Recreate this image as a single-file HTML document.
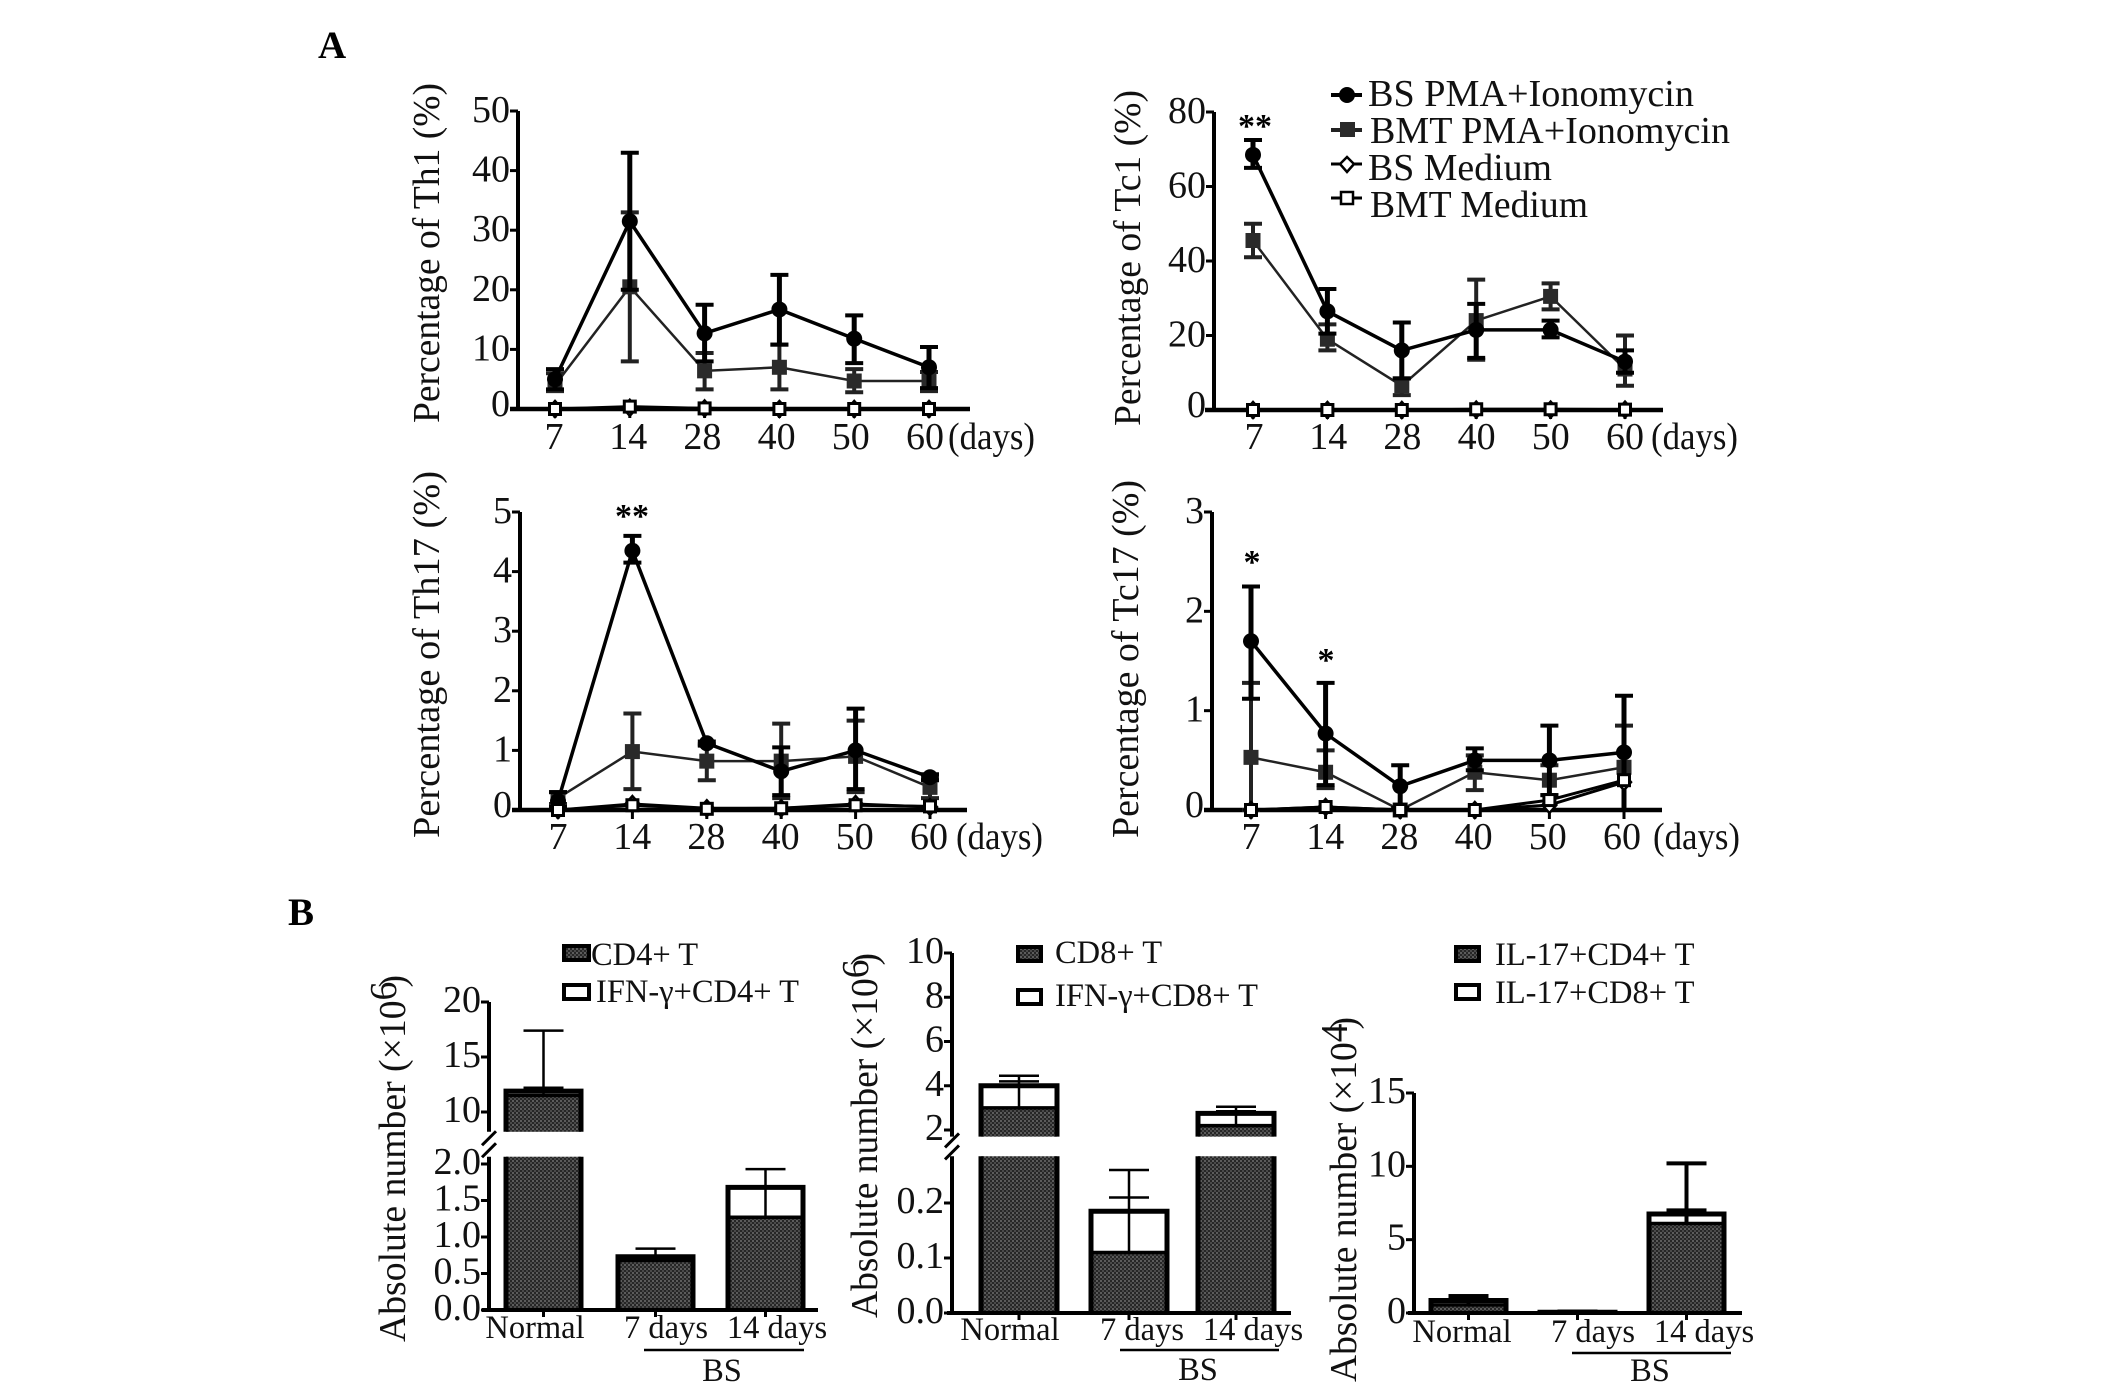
<!DOCTYPE html>
<html lang="en">
<head>
<meta charset="utf-8">
<title>T cell percentage and absolute number charts</title>
<style>
html,body{margin:0;padding:0;background:#fff;}
svg{display:block;}
text{font-family:"Liberation Serif",serif;fill:#111;}
.title{font-size:38px;}
.tick{font-size:38px;}
.leg{font-size:38px;}
.leg2{font-size:32.5px;}
.cat{font-size:32.5px;}
.panel{font-size:39px;font-weight:bold;fill:#000;}
.star{font-size:34px;font-weight:bold;fill:#000;}
</style>
</head>
<body>
<svg id="figure" xmlns="http://www.w3.org/2000/svg" width="2126" height="1393" viewBox="0 0 2126 1393">
<defs>
<pattern id="stipple" width="4" height="4" patternUnits="userSpaceOnUse">
<rect width="4" height="4" fill="#262626"/>
<rect x="0" y="0" width="2" height="2" fill="#5c5c5c"/>
<rect x="2" y="2" width="2" height="2" fill="#4a4a4a"/>
</pattern>
</defs>
<rect width="2126" height="1393" fill="#fff"/>

<text class="panel" x="318" y="58">A</text>
<text class="panel" x="288" y="925">B</text>

<g id="th1">
<text class="title" transform="translate(439,423) rotate(-90)" textLength="340" lengthAdjust="spacingAndGlyphs">Percentage of Th1 (%)</text>
<text class="tick" x="948" y="449" textLength="87" lengthAdjust="spacingAndGlyphs">(days)</text>
</g>
<g id="tc1">
<text class="title" transform="translate(1140,426) rotate(-90)" textLength="336" lengthAdjust="spacingAndGlyphs">Percentage of Tc1 (%)</text>
<text class="tick" x="1651" y="449" textLength="87" lengthAdjust="spacingAndGlyphs">(days)</text>
<text class="star" x="1255" y="137" text-anchor="middle">**</text>
</g>
<g id="th17">
<text class="title" transform="translate(439,838) rotate(-90)" textLength="367" lengthAdjust="spacingAndGlyphs">Percentage of Th17 (%)</text>
<text class="tick" x="956" y="849" textLength="87" lengthAdjust="spacingAndGlyphs">(days)</text>
<text class="star" x="632" y="527" text-anchor="middle">**</text>
</g>
<g id="tc17">
<text class="title" transform="translate(1138,838) rotate(-90)" textLength="358" lengthAdjust="spacingAndGlyphs">Percentage of Tc17 (%)</text>
<text class="tick" x="1653" y="849" textLength="87" lengthAdjust="spacingAndGlyphs">(days)</text>
<text class="star" x="1252" y="573" text-anchor="middle">*</text>
<text class="star" x="1326" y="671" text-anchor="middle">*</text>
</g>

<g id="line-legend">
<g>
<line x1="1331" y1="95" x2="1362" y2="95" stroke="#000" stroke-width="4"/><circle cx="1347" cy="95" r="8" fill="#000"/>
<text class="leg" x="1368" y="106" textLength="326" lengthAdjust="spacingAndGlyphs">BS PMA+Ionomycin</text>
</g>
<g>
<line x1="1331" y1="130" x2="1362" y2="130" stroke="#222" stroke-width="4"/><rect x="1340" y="122" width="15" height="15" fill="#2a2a2a"/>
<text class="leg" x="1370" y="143" textLength="360" lengthAdjust="spacingAndGlyphs">BMT PMA+Ionomycin</text>
</g>
<g>
<line x1="1331" y1="164" x2="1362" y2="164" stroke="#000" stroke-width="3"/><path d="M1347 157 L1354 164 L1347 172 L1340 164 Z" fill="#fff" stroke="#000" stroke-width="2.5"/>
<text class="leg" x="1368" y="180" textLength="184" lengthAdjust="spacingAndGlyphs">BS Medium</text>
</g>
<g>
<line x1="1331" y1="198" x2="1362" y2="198" stroke="#000" stroke-width="3"/><rect x="1341" y="192" width="12" height="12" fill="#fff" stroke="#000" stroke-width="2.5"/>
<text class="leg" x="1370" y="217" textLength="218" lengthAdjust="spacingAndGlyphs">BMT Medium</text>
</g>
</g>

<g id="b1">
<text class="title" transform="translate(405,1342) rotate(-90)" textLength="367" lengthAdjust="spacingAndGlyphs">Absolute number (×10<tspan dy="-9">6</tspan><tspan dy="9" dx="-6">)</tspan></text>
<g>
<rect x="564" y="946" width="25" height="14" fill="url(#stipple)" stroke="#000" stroke-width="4"/>
<text class="leg2" x="591" y="965">CD4+ T</text>
<rect x="564" y="985" width="25" height="14" fill="#fff" stroke="#000" stroke-width="4"/>
<text class="leg2" x="596" y="1002">IFN-γ+CD4+ T</text>
</g>
<line x1="644" y1="1350" x2="804" y2="1350" stroke="#000" stroke-width="2.5"/>
<text class="cat" x="722" y="1381" text-anchor="middle">BS</text>
</g>
<g id="b2">
<text class="title" transform="translate(877,1318) rotate(-90)" textLength="365" lengthAdjust="spacingAndGlyphs">Absolute number (×10<tspan dy="-9">6</tspan><tspan dy="9" dx="-6">)</tspan></text>
<g>
<rect x="1018" y="947" width="23" height="14" fill="url(#stipple)" stroke="#000" stroke-width="4"/>
<text class="leg2" x="1055" y="963">CD8+ T</text>
<rect x="1018" y="990" width="23" height="14" fill="#fff" stroke="#000" stroke-width="4"/>
<text class="leg2" x="1055" y="1006">IFN-γ+CD8+ T</text>
</g>
<line x1="1120" y1="1350" x2="1279" y2="1350" stroke="#000" stroke-width="2.5"/>
<text class="cat" x="1198" y="1380" text-anchor="middle">BS</text>
</g>
<g id="b3">
<text class="title" transform="translate(1356,1382) rotate(-90)" textLength="365" lengthAdjust="spacingAndGlyphs">Absolute number (×10<tspan dy="-9">4</tspan><tspan dy="9" dx="-6">)</tspan></text>
<g>
<rect x="1456" y="947" width="23" height="14" fill="url(#stipple)" stroke="#000" stroke-width="4"/>
<text class="leg2" x="1495" y="965">IL-17+CD4+ T</text>
<rect x="1456" y="985" width="23" height="14" fill="#fff" stroke="#000" stroke-width="4"/>
<text class="leg2" x="1495" y="1003">IL-17+CD8+ T</text>
</g>
<line x1="1572" y1="1353" x2="1731" y2="1353" stroke="#000" stroke-width="2.5"/>
<text class="cat" x="1650" y="1381" text-anchor="middle">BS</text>
</g>
</svg>

<script>
// ---------- shared categories ----------
const dayLabels = ['7', '14', '28', '40', '50', '60'];
const barCategories = ['Normal', '7 days', '14 days'];

// ---------- Th1 ----------
const th1Ticks = [0, 10, 20, 30, 40, 50];
const th1BsPma = [5, 31.5, 12.7, 16.7, 11.8, 7];
const th1BsPmaUpper = [6.7, 43, 17.5, 22.5, 15.7, 10.4];
const th1BsPmaLower = [3.3, 20, 8, 10.8, 7.7, 3.5];
const th1BmtPma = [4, 20.5, 6.4, 7, 4.7, 4.7];
const th1BmtPmaUpper = [6, 33, 9.4, 10.8, 6.7, 6.2];
const th1BmtPmaLower = [3, 8, 3.3, 3.3, 2.8, 3];
const th1BsMedium = [0, 0.2, 0.1, 0, 0, 0];
const th1BmtMedium = [0, 0.4, 0.1, 0, 0, 0];

// ---------- Tc1 ----------
const tc1Ticks = [0, 20, 40, 60, 80];
const tc1BsPma = [68.5, 26.5, 16, 21.5, 21.5, 13];
const tc1BsPmaUpper = [72.5, 32.5, 23.5, 28.5, 24, 16];
const tc1BsPmaLower = [65, 20.5, 8.5, 14, 19.5, 10];
const tc1BmtPma = [45.5, 19, 6.5, 24, 30.5, 11];
const tc1BmtPmaUpper = [50, 23, 8.5, 35, 34, 20];
const tc1BmtPmaLower = [41, 16, 4, 13.5, 27, 6.5];
const tc1BsMedium = [0, 0, 0, 0.1, 0.1, 0.1];
const tc1BmtMedium = [0, 0, 0, 0.2, 0.2, 0.1];

// ---------- Th17 ----------
const th17Ticks = [0, 1, 2, 3, 4, 5];
const th17BsPma = [0.15, 4.35, 1.12, 0.65, 1, 0.55];
const th17BsPmaUpper = [0.3, 4.6, 1.15, 1.05, 1.7, 0.6];
const th17BsPmaLower = [0.05, 4.15, 1.08, 0.25, 0.35, 0.5];
const th17BmtPma = [0.2, 0.98, 0.82, 0.82, 0.9, 0.38];
const th17BmtPmaUpper = [0.3, 1.62, 1.1, 1.45, 1.5, 0.55];
const th17BmtPmaLower = [0.1, 0.35, 0.5, 0.2, 0.3, 0.2];
const th17BsMedium = [0, 0.1, 0.03, 0.03, 0.1, 0.05];
const th17BmtMedium = [0, 0.08, 0.02, 0.03, 0.08, 0.06];

// ---------- Tc17 ----------
const tc17Ticks = [0, 1, 2, 3];
const tc17BsPma = [1.7, 0.77, 0.24, 0.5, 0.5, 0.58];
const tc17BsPmaUpper = [2.25, 1.28, 0.45, 0.62, 0.85, 1.15];
const tc17BsPmaLower = [1.12, 0.25, 0.02, 0.4, 0.15, 0];
const tc17BmtPma = [0.53, 0.38, 0, 0.38, 0.3, 0.43];
const tc17BmtPmaUpper = [1.28, 0.6, 0.02, 0.55, 0.45, 0.85];
const tc17BmtPmaLower = [0, 0.22, 0, 0.2, 0.15, 0];
const tc17BsMedium = [0, 0.03, 0, 0, 0.05, 0.28];
const tc17BmtMedium = [0, 0.03, 0, 0, 0.1, 0.3];

// ---------- Bars: CD4 ----------
const cd4TickValues = [0, 0.5, 1, 1.5, 2, 10, 15, 20];
const cd4TickLabels = ['0.0', '0.5', '1.0', '1.5', '2.0', '10', '15', '20'];
const cd4Inner = [11.5, 0.68, 1.27];
const cd4Total = [11.9, 0.73, 1.68];
const cd4InnerError = [12.2, 0.73, 1.68];
const cd4TotalError = [17.4, 0.84, 1.93];

// ---------- Bars: CD8 ----------
const cd8TickValues = [0, 0.1, 0.2, 2, 4, 6, 8, 10];
const cd8TickLabels = ['0.0', '0.1', '0.2', '2', '4', '6', '8', '10'];
const cd8Inner = [3, 0.11, 2.2];
const cd8Total = [4, 0.185, 2.75];
const cd8InnerError = [4.2, 0.21, 2.85];
const cd8TotalError = [4.45, 0.26, 3.05];

// ---------- Bars: IL-17 ----------
const il17TickValues = [0, 5, 10, 15];
const il17TickLabels = ['0', '5', '10', '15'];
const il17Inner = [0.55, 0.02, 6.1];
const il17Total = [0.85, 0.05, 6.75];
const il17InnerError = [1.15, 0.1, 7];
const il17TotalError = [1.15, 0.1, 10.2];

const SVGNS = 'http://www.w3.org/2000/svg';
function mk(parent, tag, attrs) {
  const n = document.createElementNS(SVGNS, tag);
  for (const k in attrs) n.setAttribute(k, attrs[k]);
  parent.appendChild(n);
  return n;
}
function seg(parent, x1, y1, x2, y2, w, c) {
  return mk(parent, 'line', { x1: x1, y1: y1, x2: x2, y2: y2, stroke: c, 'stroke-width': w });
}

function drawLineChart(cfg) {
  const root = document.getElementById(cfg.id);
  const x = i => cfg.x0 + cfg.step * i;
  const y = v => cfg.yZero - (v / cfg.yMax) * (cfg.yZero - cfg.yTop);

  const yAxis = seg(root, cfg.axisX, y(cfg.yMax), cfg.axisX, cfg.yZero + 2, 4, '#000');
  
  
  const xAxis = seg(root, cfg.axisStart, cfg.yZero, cfg.axisEnd, cfg.yZero, 4.5, '#000');
  
  

  cfg.ticks.forEach(t => {
    const tk = seg(root, cfg.axisX - 8, y(t), cfg.axisX, y(t), 3, '#000');
    
    
    const lb = mk(root, 'text', { x: cfg.axisX - 8, y: y(t) + (t === 0 ? 7 : 11), 'text-anchor': 'end', class: 'tick' });
    lb.textContent = String(t);
    
    
  });
  dayLabels.forEach((d, i) => {
    const tk = seg(root, x(i), cfg.yZero, x(i), cfg.yZero + 9, 3, '#000');
    
    
    const lb = mk(root, 'text', { x: cfg.labelX0 + cfg.labelStep * i, y: cfg.labelY, 'text-anchor': 'middle', class: 'tick' });
    lb.textContent = d;
    
    
  });

  cfg.series.forEach(s => {
    const g = mk(root, 'g', {});
    
    
    const pl = mk(g, 'polyline', {
      points: s.values.map((v, i) => x(i) + ',' + y(v)).join(' '),
      fill: 'none', stroke: s.color, 'stroke-width': s.lw
    });
    
    
    if (s.upper) {
      s.values.forEach((v, i) => {
        const e = seg(g, x(i), y(s.lower[i]), x(i), y(s.upper[i]), s.ew, s.color);
        
        
        const cu = seg(g, x(i) - 9, y(s.upper[i]), x(i) + 9, y(s.upper[i]), 4, s.color);
        
        
        const cl = seg(g, x(i) - 9, y(s.lower[i]), x(i) + 9, y(s.lower[i]), 4, s.color);
        
        
      });
    }
    s.values.forEach((v, i) => {
      const px = x(i), py = y(v);
      let m;
      if (s.marker === 'circle') {
        m = mk(g, 'circle', { cx: px, cy: py, r: 8, fill: '#000' });
      } else if (s.marker === 'square') {
        m = mk(g, 'rect', { x: px - 7.5, y: py - 7.5, width: 15, height: 15, fill: '#2a2a2a' });
      } else if (s.marker === 'diamond') {
        m = mk(g, 'path', { d: 'M' + px + ' ' + (py - 8) + ' L' + (px + 7) + ' ' + py + ' L' + px + ' ' + (py + 8) + ' L' + (px - 7) + ' ' + py + ' Z', fill: '#fff', stroke: '#000', 'stroke-width': 2.5 });
      } else {
        m = mk(g, 'rect', { x: px - 5.5, y: py - 5.5, width: 11, height: 11, fill: '#fff', stroke: '#000', 'stroke-width': 3 });
      }
      
      
    });
  });
}

function makeSeries(bs, bsU, bsL, bmt, bmtU, bmtL, bsM, bmtM) {
  return [
    { key: 'bmt-pma', values: bmt, upper: bmtU, lower: bmtL, marker: 'square', color: '#222', lw: 2.5, ew: 4 },
    { key: 'bs-pma', values: bs, upper: bsU, lower: bsL, marker: 'circle', color: '#000', lw: 3.5, ew: 5 },
    { key: 'bs-medium', values: bsM, marker: 'diamond', color: '#000', lw: 3 },
    { key: 'bmt-medium', values: bmtM, marker: 'open-square', color: '#000', lw: 3 }
  ];
}

drawLineChart({ id: 'th1', axisX: 518, axisStart: 510, axisEnd: 970, x0: 555, step: 74.8, yZero: 409, yTop: 111, yMax: 50, ticks: th1Ticks, labelX0: 554, labelStep: 74.2, labelY: 449,
  series: makeSeries(th1BsPma, th1BsPmaUpper, th1BsPmaLower, th1BmtPma, th1BmtPmaUpper, th1BmtPmaLower, th1BsMedium, th1BmtMedium) });
drawLineChart({ id: 'tc1', axisX: 1214, axisStart: 1205, axisEnd: 1663, x0: 1253, step: 74.4, yZero: 410, yTop: 112, yMax: 80, ticks: tc1Ticks, labelX0: 1254, labelStep: 74.2, labelY: 449,
  series: makeSeries(tc1BsPma, tc1BsPmaUpper, tc1BsPmaLower, tc1BmtPma, tc1BmtPmaUpper, tc1BmtPmaLower, tc1BsMedium, tc1BmtMedium) });
drawLineChart({ id: 'th17', axisX: 520, axisStart: 512, axisEnd: 967, x0: 558, step: 74.4, yZero: 810, yTop: 512, yMax: 5, ticks: th17Ticks, labelX0: 558, labelStep: 74.2, labelY: 849,
  series: makeSeries(th17BsPma, th17BsPmaUpper, th17BsPmaLower, th17BmtPma, th17BmtPmaUpper, th17BmtPmaLower, th17BsMedium, th17BmtMedium) });
drawLineChart({ id: 'tc17', axisX: 1212, axisStart: 1204, axisEnd: 1662, x0: 1251, step: 74.6, yZero: 810, yTop: 512, yMax: 3, ticks: tc17Ticks, labelX0: 1251, labelStep: 74.2, labelY: 849,
  series: makeSeries(tc17BsPma, tc17BsPmaUpper, tc17BsPmaLower, tc17BmtPma, tc17BmtPmaUpper, tc17BmtPmaLower, tc17BsMedium, tc17BmtMedium) });

function drawBarChart(cfg) {
  const root = document.getElementById(cfg.id);
  const y = v => {
    if (cfg.breakHigh !== undefined && v >= cfg.breakHigh) {
      return cfg.highP0 + (v - cfg.highV0) * (cfg.highP1 - cfg.highP0) / (cfg.highV1 - cfg.highV0);
    }
    return cfg.lowP0 + (v - cfg.lowV0) * (cfg.lowP1 - cfg.lowP0) / (cfg.lowV1 - cfg.lowV0);
  };
  const topV = cfg.tickValues[cfg.tickValues.length - 1];
  const bw = cfg.barWidth;

  cfg.categories.forEach((c, i) => {
    const left = cfg.barLefts[i];
    const mid = left + bw / 2;
    const g = mk(root, 'g', {});
    
    

    const inner = cfg.inner[i], total = cfg.total[i];
    const crosses = cfg.breakHigh !== undefined && total >= cfg.breakHigh;

    // white outer part, drawn behind the stippled part
    const outer = mk(g, 'rect', { x: left, y: y(total), width: bw, height: Math.max(0, y(inner) - y(total)), fill: '#fff' });
    
    

    let innerTopPx = y(inner), innerBottomPx = cfg.lowP0;
    if (crosses) {
      innerBottomPx = y(cfg.breakHigh);
      const lower = mk(g, 'rect', { x: left, y: y(cfg.breakLow), width: bw, height: cfg.lowP0 - y(cfg.breakLow), fill: 'url(#stipple)' });
      
      
      [left, left + bw].forEach((sx, k) => {
        const side = seg(g, sx, y(cfg.breakLow), sx, cfg.lowP0, 5, '#000');
        
        
      });
    }
    const upper = mk(g, 'rect', { x: left, y: innerTopPx, width: bw, height: Math.max(0, innerBottomPx - innerTopPx), fill: 'url(#stipple)' });
    
    

    const bottomPx = crosses ? innerBottomPx : cfg.lowP0;
    const outline = mk(g, 'path', {
      d: 'M' + left + ' ' + bottomPx + ' L' + left + ' ' + y(total) + ' L' + (left + bw) + ' ' + y(total) + ' L' + (left + bw) + ' ' + bottomPx,
      fill: 'none', stroke: '#000', 'stroke-width': 5
    });
    
    
    const divider = seg(g, left, y(inner), left + bw, y(inner), 3.5, '#000');
    
    

    const stem = seg(g, mid, y(inner), mid, y(cfg.totalError[i]), cfg.errWidth, '#000');
    
    
    const capA = seg(g, mid - 20, y(cfg.totalError[i]), mid + 20, y(cfg.totalError[i]), cfg.errWidth, '#000');
    
    
    const capB = seg(g, mid - 20, y(cfg.innerError[i]), mid + 20, y(cfg.innerError[i]), cfg.errWidth, '#000');
    
    

    const tk = seg(root, mid, cfg.lowP0, mid, cfg.lowP0 + 7, 3, '#000');
    
    
    const lb = mk(root, 'text', { x: cfg.labelCenters[i], y: cfg.labelY, 'text-anchor': 'middle', class: 'cat' });
    lb.textContent = c;
    
    
  });

  const xAxis = seg(root, cfg.axisStart, cfg.lowP0, cfg.axisEnd, cfg.lowP0, 4, '#000');
  
  

  if (cfg.breakHigh !== undefined) {
    const lowAxis = seg(root, cfg.axisX, y(cfg.breakLow), cfg.axisX, cfg.lowP0, 4, '#000');
    
    
    const highAxis = seg(root, cfg.axisX, y(topV), cfg.axisX, y(cfg.breakHigh), 4, '#000');
    
    
    const midB = (y(cfg.breakLow) + y(cfg.breakHigh)) / 2;
    [-6, 6].forEach((o, k) => {
      const b = seg(root, cfg.axisX - 7, midB + o + 7, cfg.axisX + 7, midB + o - 7, 3, '#000');
      
      
    });
  } else {
    const yAxis = seg(root, cfg.axisX, y(topV), cfg.axisX, cfg.lowP0, 4, '#000');
    
    
  }

  cfg.tickValues.forEach((t, i) => {
    const tk = seg(root, cfg.axisX - 8, y(t), cfg.axisX, y(t), 3, '#000');
    
    
    const lb = mk(root, 'text', { x: cfg.axisX - 8, y: y(t) + 10, 'text-anchor': 'end', class: 'tick' });
    lb.textContent = cfg.tickLabels[i];
    
    
  });
}

drawBarChart({ id: 'b1', categories: barCategories, axisX: 489, axisStart: 482, axisEnd: 818,
  lowV0: 0, lowP0: 1310, lowV1: 2, lowP1: 1164, highV0: 10, highP0: 1112, highV1: 20, highP1: 1002, breakLow: 2.1, breakHigh: 8.2,
  barLefts: [506, 618, 728], barWidth: 75, errWidth: 2.5,
  tickValues: cd4TickValues, tickLabels: cd4TickLabels, inner: cd4Inner, total: cd4Total, innerError: cd4InnerError, totalError: cd4TotalError,
  labelCenters: [535, 666, 777], labelY: 1338 });
drawBarChart({ id: 'b2', categories: barCategories, axisX: 952, axisStart: 947, axisEnd: 1291,
  lowV0: 0, lowP0: 1313, lowV1: 0.2, lowP1: 1203, highV0: 2, highP0: 1130, highV1: 10, highP1: 953, breakLow: 0.285, breakHigh: 1.7,
  barLefts: [981, 1091, 1198], barWidth: 76, errWidth: 2.5,
  tickValues: cd8TickValues, tickLabels: cd8TickLabels, inner: cd8Inner, total: cd8Total, innerError: cd8InnerError, totalError: cd8TotalError,
  labelCenters: [1010, 1142, 1253], labelY: 1340 });
drawBarChart({ id: 'b3', categories: barCategories, axisX: 1414, axisStart: 1408, axisEnd: 1742,
  lowV0: 0, lowP0: 1313, lowV1: 15, lowP1: 1093,
  barLefts: [1431, 1540, 1649], barWidth: 75, errWidth: 4,
  tickValues: il17TickValues, tickLabels: il17TickLabels, inner: il17Inner, total: il17Total, innerError: il17InnerError, totalError: il17TotalError,
  labelCenters: [1462, 1593, 1704], labelY: 1342 });
</script>
</body>
</html>
